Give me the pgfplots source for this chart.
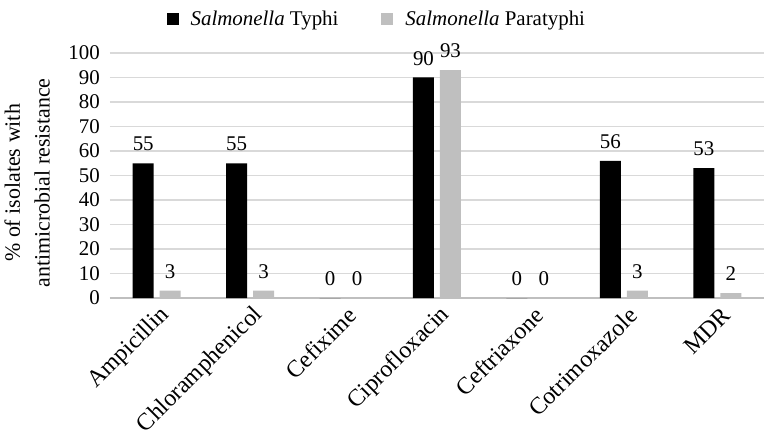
\documentclass[border=0pt]{standalone}
\usepackage{fontspec}
\setmainfont{Liberation Serif}
\usepackage{pgfplots}
\pgfplotsset{compat=1.18}
\definecolor{para}{HTML}{BFBFBF}
\definecolor{gridc}{HTML}{D9D9D9}
\definecolor{axisc}{HTML}{BFBFBF}
\newcommand{\chartfont}{\fontsize{21}{30}\selectfont}
\pgfplotsset{
  sqlegend/.style={legend image code/.code={\fill[##1] (0bp,-6bp) rectangle (12bp,6bp);}}
}
\begin{document}
\begin{tikzpicture}
\begin{axis}[
  name=ax,
  scale only axis,
  width=654bp, height=245bp,
  ymin=0, ymax=100, ytick={0,10,...,100},
  xmin=-0.5, xmax=6.5,
  xtick=data,
  xticklabels={Ampicillin, Chloramphenicol, Cefixime, Ciprofloxacin, Ceftriaxone, Cotrimoxazole, MDR},
  ybar=6bp, bar width=21bp,
  axis lines*=left,
  y axis line style={draw=none},
  x axis line style={draw=axisc, line width=1.2bp, -},
  major tick length=0pt,
  ymajorgrids, grid style={draw=gridc, line width=1.2bp},
  /pgf/number format/assume math mode=true,
  tick label style={font=\chartfont},
  yticklabel style={inner sep=0pt, xshift=-10bp},
  xticklabel style={rotate=45, anchor=east, inner sep=0pt, xshift=-3bp, yshift=-16bp, font=\fontsize{24}{28}\selectfont},
  ylabel={\% of isolates with\\antimicrobial resistance},
  ylabel style={align=center, font=\fontsize{22}{30}\selectfont, at={(ticklabel cs:0.47)}, yshift=15bp},
  nodes near coords,
  nodes near coords style={font=\chartfont, anchor=south, inner sep=0pt, yshift=12bp},
  legend columns=2,
  legend style={at={(0.408,1.139)}, anchor=center, draw=none, fill=none, font=\chartfont,
    /tikz/every odd column/.append style={column sep=10bp},
    /tikz/every even column/.append style={column sep=41bp}},
]
\addplot[fill=black, draw=none, sqlegend] coordinates {(0,55) (1,55) (2,0) (3,90) (4,0) (5,56) (6,53)};
\addlegendentry{\textit{Salmonella} Typhi}
\addplot[fill=para, draw=none, sqlegend] coordinates {(0,3) (1,3) (2,0) (3,93) (4,0) (5,3) (6,2)};
\addlegendentry{\textit{Salmonella} Paratyphi}
\end{axis}
\pgfresetboundingbox
\path[use as bounding box] ([shift={(-110bp,-141bp)}]ax.south west) rectangle ([shift={(656bp,298bp)}]ax.south west);
\end{tikzpicture}
\end{document}
